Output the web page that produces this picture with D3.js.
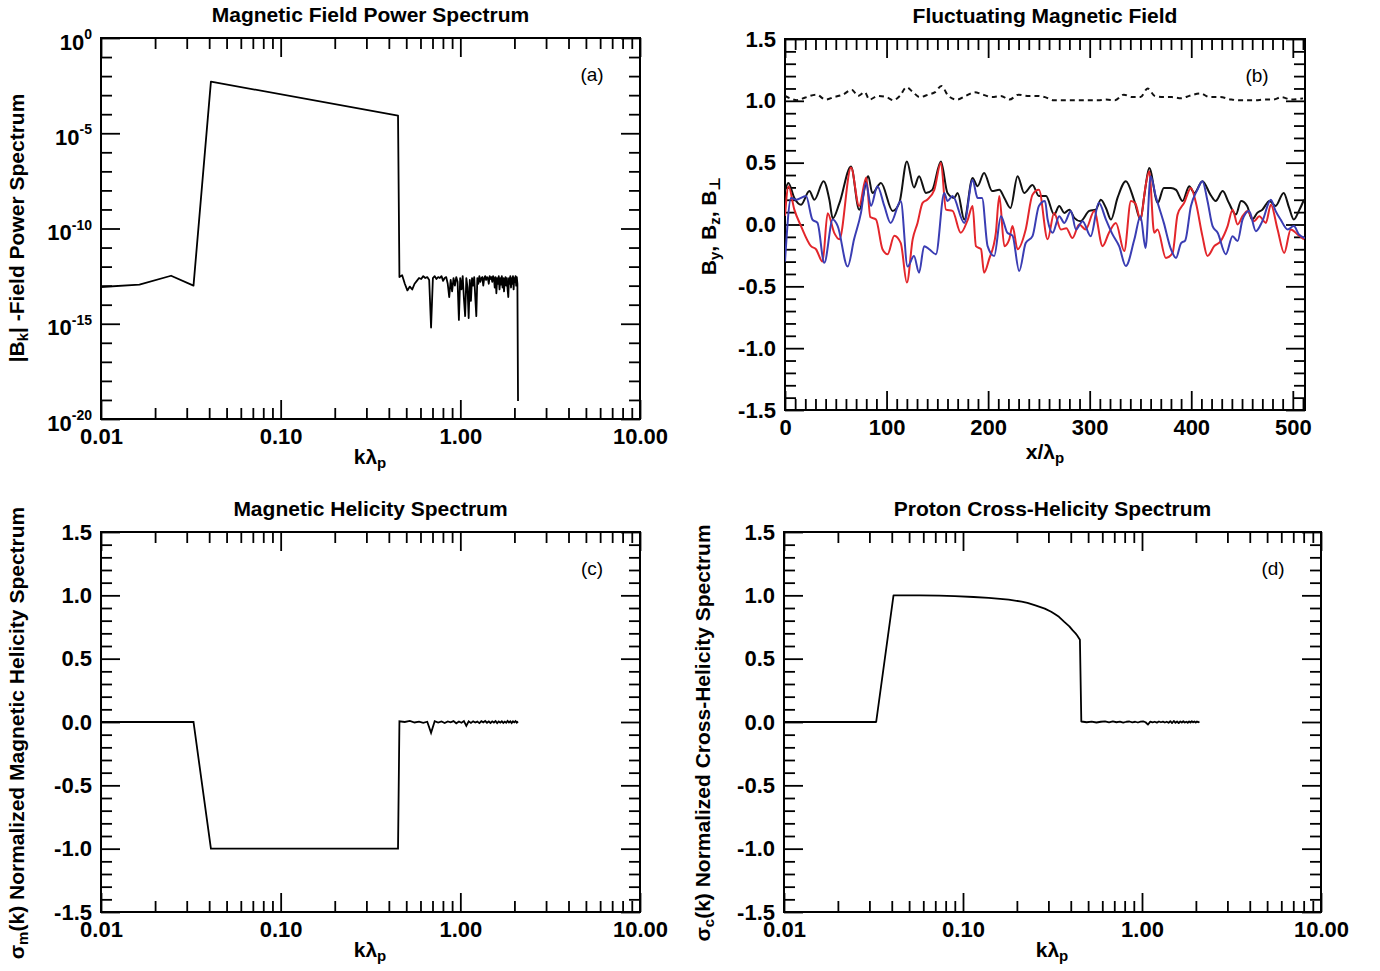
<!DOCTYPE html>
<html>
<head>
<meta charset="utf-8">
<script src="https://cdn.jsdelivr.net/npm/d3@7"></script>
<style>
  body { margin: 0; background: #fff; }
  text { font-family: "Liberation Sans", Arial, "DejaVu Sans", sans-serif; fill: #000; }
</style>
</head>
<body>
<div id="chart"></div>
<script>
// ---------- data ----------
// wavenumber grid: k = n * dk
const dk = 2 * Math.PI / 768;

// (a) power spectrum, log10 values
const powerHeadN = [1, 2, 3, 4, 5, 55];
const powerHeadLog = [-13.12, -12.95, -12.48, -13.0, -2.29, -4.07];
const powerTailStart = 56, powerTailStep = 2;
const powerTailLog = [
  -12.55, -12.45, -12.9, -13.25, -13.05, -13.2, -12.9, -12.75, -12.6, -12.65,
  -12.5, -12.6, -12.55, -12.7, -15.2, -12.6, -12.5, -12.65, -12.55, -12.6,
  -12.5, -12.75, -12.6, -12.55, -12.9, -13.6, -12.7, -13.3, -12.6, -13.0,
  -12.55, -12.8, -14.8, -12.6, -13.2, -12.5, -13.7, -14.6, -12.6, -13.1,
  -14.7, -12.7, -13.8, -12.6, -13.0, -12.55, -13.6, -14.6, -12.6, -12.9,
  -12.5, -12.8, -12.6, -12.55, -13.0, -12.6, -12.5, -12.7, -12.55, -12.6,
  -12.9, -12.5, -12.65, -12.55, -12.8, -12.5, -12.6, -13.1, -12.55, -13.4,
  -12.6, -12.9, -12.5, -13.2, -12.6, -12.95, -12.5, -13.1, -12.6, -13.3,
  -12.7, -12.55, -13.0, -12.6, -13.2, -13.6, -12.6, -12.9, -12.5, -13.1,
  -12.6, -12.9, -12.5, -13.2, -12.6, -12.8, -12.5, -13.0, -12.55, -12.9,
  -19.05
];

// (c) magnetic helicity
const helHeadN = [1, 4, 5, 55];
const helHeadVal = [0, 0, -1, -1];
const helTailStart = 56, helTailStep = 4;
const helTailVal = [
  0.005, 0.0, 0.008, -0.004, 0.003, -0.006, 0.002, -0.085, 0.006, -0.005,
  0.004, -0.008, 0.005, -0.003, 0.007, -0.01, 0.004, -0.006, 0.008, -0.03,
  0.005, -0.007, 0.006, -0.004, 0.003, -0.009, 0.006, -0.003, 0.008, -0.006,
  0.004, -0.008, 0.005, -0.004, 0.007, -0.009, 0.004, -0.005, 0.006, -0.007,
  0.003, -0.006, 0.008, -0.004, 0.005, -0.008, 0.006, -0.003, 0.007, -0.005,
  0.004
];

// (d) cross helicity
const crossHeadN = [1, 4, 5, 7, 9, 11, 14, 17, 22, 26, 28, 31, 35, 38, 40, 42, 45, 48, 50, 52, 53, 55];
const crossHeadVal = [0, 0, 1.0, 0.999, 0.997, 0.993, 0.987, 0.98, 0.966, 0.95, 0.94, 0.92, 0.895, 0.87, 0.85, 0.83, 0.79, 0.755, 0.725, 0.70, 0.685, 0.65];
const crossTailStart = 56, crossTailStep = 4;
const crossTailVal = [
  0.004, -0.002, 0.003, -0.004, 0.002, 0.005, -0.003, 0.004, -0.002, 0.003,
  -0.005, 0.002, 0.004, -0.003, 0.002, -0.004, 0.003, 0.005, -0.002, -0.02,
  0.003, -0.003, 0.002, -0.005, 0.004, -0.002, 0.003, -0.004, 0.002, -0.006,
  0.006, -0.008, 0.008, -0.006, 0.004, -0.008, 0.005, -0.004, 0.006, -0.005,
  0.003, -0.006, 0.005, -0.004, 0.006, -0.003, 0.005, -0.005, 0.004, -0.002,
  0.003
];

// (b) fluctuating field, [x/lambda_p, value]
const bPerp = [[0,0.27],[3.3,0.336],[9.2,0.215],[15.8,0.16],[24,0.27],[28.9,0.2],[38,0.35],[43.7,0.2],[47,0.05],[53.5,0.17],[65,0.47],[73,0.12],[82,0.39],[86,0.255],[94.5,0.336],[106,0.11],[112.6,0.175],[120,0.51],[127,0.3],[132,0.39],[138.8,0.255],[145,0.28],[153.5,0.51],[160,0.255],[166.6,0.215],[170,0.255],[176.5,0.04],[184.7,0.376],[189.6,0.31],[196,0.417],[204,0.27],[211,0.28],[216,0.215],[222,0.134],[229,0.39],[235.5,0.255],[243.7,0.32],[250,0.23],[257,0.23],[265,0.08],[270,0.15],[275,0.094],[280,0.12],[284.8,0.054],[291,0.027],[299.6,0.11],[306,0.12],[311,0.2],[316,0.134],[321,0.04],[327.4,0.215],[335.6,0.35],[344,0.19],[350,0.04],[353.7,0.23],[358.6,0.457],[367,0.175],[373,0.296],[380,0.296],[385,0.28],[391.5,0.19],[398,0.31],[403,0.255],[411,0.35],[419,0.24],[424,0.19],[431,0.27],[437,0.175],[444,0.08],[449,0.19],[455,0.15],[460,0.04],[465,0.094],[470,0.12],[477,0.19],[483,0.15],[491,0.255],[496.4,0.134],[501,0.04],[506,0.11],[511,0.2]];
const bY = [[0,0.07],[3.5,0.31],[9.2,0.12],[15.8,-0.013],[25.6,-0.175],[30.5,-0.2],[37,-0.3],[42,0.09],[48.6,-0.07],[53.5,-0.12],[65,0.46],[73,0.15],[80,0.38],[84,0.06],[89.6,0.04],[96,-0.2],[101,-0.24],[107.6,-0.09],[114,-0.15],[120,-0.47],[125.7,-0.12],[130.5,0.013],[135.5,0.175],[140,0.2],[147,0.28],[153.5,0.5],[158.5,0.12],[165,0.11],[173,-0.067],[180,0.04],[184.7,0.15],[188,-0.175],[193,-0.2],[196,-0.39],[201,-0.28],[207.6,-0.067],[211,0.23],[216,-0.175],[220.8,-0.12],[224,-0.013],[229,-0.2],[237,-0.04],[243.7,0.24],[250,0.28],[258.6,-0.12],[265,0.094],[271.7,-0.04],[277,-0.03],[283,-0.11],[289.7,0],[296,-0.04],[304.5,0.11],[312.7,-0.175],[319,-0.067],[325.8,0.013],[334,-0.215],[340.6,0.19],[345,0.17],[350,0.04],[355,0.31],[358.6,0.43],[363.5,-0.067],[366.8,-0.04],[375,-0.27],[381.6,-0.23],[386.5,0.08],[393,0.175],[399.7,0.296],[404.6,0.175],[411,-0.094],[416,-0.255],[422.6,-0.175],[429,-0.134],[435.8,-0.013],[440.7,0.12],[445.6,0],[450.5,0.067],[455.4,0.11],[462,0.027],[467,0.067],[473.5,0.013],[478.4,0.16],[485,-0.04],[491.5,-0.23],[498,-0.04],[504.6,-0.08],[511,-0.12]];
const bZ = [[0,-0.3],[6,0.215],[10.9,0.2],[20.7,0.23],[27,0.04],[32,0.013],[38.7,-0.31],[47,0.04],[51.9,-0.013],[61.7,-0.34],[68,-0.12],[74.8,0.094],[79.7,0.336],[84.7,0.15],[91,0.31],[97.8,0.15],[104,0.013],[114,0.19],[120.7,-0.34],[127,-0.255],[132,-0.39],[137,-0.175],[142,-0.2],[148.6,-0.24],[156.8,0.255],[160,0.19],[165,0.23],[176.5,0.013],[184.7,0.36],[189.6,0.215],[194,0.215],[199.5,-0.175],[206,-0.255],[212.6,0.067],[219,-0.067],[224,-0.09],[230.6,-0.376],[237,-0.15],[243.7,-0.094],[250,0.15],[256,0.19],[258.6,0.04],[263.5,-0.067],[270,0.067],[275,0.013],[281.5,0.11],[286.5,-0.04],[293,0.027],[301,-0.094],[309,0.175],[316,0.04],[322.5,-0.08],[329,-0.175],[335.6,-0.336],[344,-0.12],[350,0.067],[355,-0.19],[360,0.39],[365,0.23],[373,0.013],[380,-0.2],[385,-0.27],[390,-0.15],[394,-0.13],[399.7,0.15],[406,0.28],[411,0.35],[416,0.19],[421,-0.013],[426,-0.067],[434,-0.24],[440.7,-0.094],[445.6,-0.134],[450.5,0.04],[457,0.11],[463.6,-0.054],[470,0.027],[478.4,0.2],[483,0.11],[488,0.04],[495,-0.04],[501,-0.013],[506,-0.08],[512,-0.11]];
const bMag = [[0,1.04],[5,1.02],[11.7,1.005],[20,1.027],[31,1.05],[40,1.01],[48,1.03],[57,1.05],[65.7,1.09],[72,1.04],[78.6,1.07],[83,1.01],[91.6,1.04],[100,1.03],[106.7,1.005],[113,1.04],[119.7,1.11],[126,1.07],[132.7,1.03],[141,1.05],[147.8,1.07],[154,1.12],[160.8,1.04],[169.4,1.01],[178,1.04],[186.7,1.07],[195,1.05],[204,1.03],[212.6,1.04],[221,1.01],[230,1.05],[238.5,1.04],[247,1.04],[256,1.03],[264.5,1.005],[273,1.005],[281.7,1.005],[290,1.005],[299,1.005],[308,1.005],[316,1.01],[325,1.005],[333.6,1.05],[342,1.03],[350,1.03],[357,1.1],[364,1.04],[372.5,1.03],[381,1.03],[390,1.02],[398,1.04],[409,1.06],[418,1.03],[428.7,1.03],[439.5,1.01],[450,1.005],[463,1.005],[472,1.01],[480.6,1.01],[489,1.03],[498,1.01],[510,1.02]];

// tick values
const kMajor = [0.01, 0.1, 1, 10];
const powerMajor = [1, 1e-5, 1e-10, 1e-15, 1e-20];
const sigmaMajor = [-1.5, -1.0, -0.5, 0.0, 0.5, 1.0, 1.5];
const xMajor = [0, 100, 200, 300, 400, 500];

// ---------- helpers ----------
function spectrum(headN, headVal, tailStart, tailStep, tailVal, toY) {
  const pts = headN.map((n, i) => [n * dk, toY(headVal[i])]);
  tailVal.forEach((v, i) => pts.push([(tailStart + i * tailStep) * dk, toY(v)]));
  return pts;
}

const svg = d3.select("#chart").append("svg")
  .attr("width", 1380).attr("height", 971);
svg.append("rect").attr("width", 1380).attr("height", 971).attr("fill", "#fff");

const kMinor = [];
[0.01, 0.1, 1].forEach(d => { for (let m = 2; m <= 9; m++) kMinor.push(d * m); });

function styleAxis(sel) {
  sel.select(".domain").remove();
  sel.attr("font-size", null).attr("font-family", null);
  sel.selectAll("line").attr("stroke", "#000").attr("stroke-width", 1.8);
  sel.selectAll("text").style("font-size", "22px").style("font-weight", "bold");
}

function frame(id, x, y, o) {
  const [x0, x1] = x.range();
  const [y1, y0] = y.range();
  const g = svg.append("g");
  const both = (vals, size) => {
    g.append("g").attr("transform", `translate(0,${y1})`)
      .call(d3.axisBottom(x).tickValues(vals).tickSize(-size).tickFormat("")).call(styleAxis);
    g.append("g").attr("transform", `translate(0,${y0})`)
      .call(d3.axisTop(x).tickValues(vals).tickSize(-size).tickFormat("")).call(styleAxis);
  };
  const bothY = (vals, size) => {
    g.append("g").attr("transform", `translate(${x0},0)`)
      .call(d3.axisLeft(y).tickValues(vals).tickSize(-size).tickFormat("")).call(styleAxis);
    g.append("g").attr("transform", `translate(${x1},0)`)
      .call(d3.axisRight(y).tickValues(vals).tickSize(-size).tickFormat("")).call(styleAxis);
  };
  both(o.xMinor, 11);
  both(o.xMajor, 19);
  bothY(o.yMinor, 11);
  bothY(o.yMajor, 19);

  // labels
  g.append("g").attr("transform", `translate(0,${y1})`)
    .call(d3.axisBottom(x).tickValues(o.xMajor).tickSize(0).tickPadding(9).tickFormat(o.xFmt))
    .call(styleAxis);
  const ly = g.append("g").attr("transform", `translate(${x0},0)`)
    .call(d3.axisLeft(y).tickValues(o.yMajor).tickSize(0).tickPadding(9).tickFormat(o.yFmt))
    .call(styleAxis);
  if (o.logY) {
    ly.selectAll("text").each(function(d) {
      const t = d3.select(this).text("").attr("dy", "0.5em");
      t.append("tspan").text("10");
      t.append("tspan").attr("dy", "-0.75em").style("font-size", "14px")
        .text(Math.round(Math.log10(d)) === 0 ? "0" : String(Math.round(Math.log10(d))));
    });
  }

  g.append("rect").attr("x", x0).attr("y", y0)
    .attr("width", x1 - x0).attr("height", y1 - y0)
    .attr("fill", "none").attr("stroke", "#000").attr("stroke-width", 2);

  svg.append("clipPath").attr("id", "clip" + id).append("rect")
    .attr("x", x0).attr("y", y0).attr("width", x1 - x0).attr("height", y1 - y0);
  const plot = svg.append("g").attr("clip-path", `url(#clip${id})`);

  // title
  svg.append("text").attr("x", (x0 + x1) / 2).attr("y", y0 - 16)
    .attr("text-anchor", "middle").style("font-size", "21px").style("font-weight", "bold")
    .text(o.title);
  // panel tag
  svg.append("text").attr("x", x1 - 48).attr("y", y0 + 43)
    .attr("text-anchor", "middle").style("font-size", "19px")
    .text(o.tag);
  return plot;
}

function sub(t, main, s, size) {
  t.append("tspan").text(main);
  t.append("tspan").attr("baseline-shift", "-25%").style("font-size", (size || 15) + "px").text(s);
}

function xTitle(cx, cy, main, s) {
  const t = svg.append("text").attr("x", cx).attr("y", cy).attr("text-anchor", "middle")
    .style("font-size", "21px").style("font-weight", "bold");
  sub(t, main, s);
  return t;
}

function yTitle(cx, cy) {
  return svg.append("text").attr("transform", `translate(${cx},${cy}) rotate(-90)`)
    .attr("text-anchor", "middle").style("font-size", "21px").style("font-weight", "bold");
}

// ---------- (a) power spectrum ----------
const xa = d3.scaleLog().domain([0.01, 10]).range([101, 640]);
const ya = d3.scaleLog().domain([1e-20, 1]).range([419, 38]);
const yaMinor = d3.range(-19, 0).filter(e => e % 5 !== 0).map(e => Math.pow(10, e));
const pa = frame("a", xa, ya, {
  xMajor: kMajor, xMinor: kMinor, yMajor: powerMajor, yMinor: yaMinor,
  xFmt: d3.format(".2f"), yFmt: d => d, logY: true,
  title: "Magnetic Field Power Spectrum", tag: "(a)"
});
const powerPts = spectrum(powerHeadN, powerHeadLog, powerTailStart, powerTailStep, powerTailLog, v => Math.pow(10, v));
pa.append("path").datum(powerPts)
  .attr("d", d3.line().x(d => xa(d[0])).y(d => ya(d[1])))
  .attr("fill", "none").attr("stroke", "#000").attr("stroke-width", 1.8).attr("stroke-linejoin", "round");
xTitle(370, 464, "kλ", "p");
const ta = yTitle(24, 228);
ta.append("tspan").text("|B");
ta.append("tspan").attr("baseline-shift", "-25%").style("font-size", "15px").text("k");
ta.append("tspan").text("| -Field Power Spectrum");

// ---------- (b) fluctuating field ----------
const xb = d3.scaleLinear().domain([0, 512]).range([785, 1305]);
const yb = d3.scaleLinear().domain([-1.5, 1.5]).range([410, 39]);
const pb = frame("b", xb, yb, {
  xMajor: xMajor, xMinor: d3.range(10, 512, 10).filter(v => v % 100 !== 0),
  yMajor: sigmaMajor, yMinor: d3.range(-14, 15).filter(v => v % 5 !== 0).map(v => v / 10),
  xFmt: d => d, yFmt: d => d.toFixed(1),
  title: "Fluctuating Magnetic Field", tag: "(b)"
});
const lineB = d3.line().x(d => xb(d[0])).y(d => yb(d[1])).curve(d3.curveMonotoneX);
const seriesB = [
  { data: bMag, color: "#111", dash: "5,4" },
  { data: bPerp, color: "#111", dash: null },
  { data: bY, color: "#e3262b", dash: null },
  { data: bZ, color: "#3a3db3", dash: null }
];
seriesB.forEach(s => {
  pb.append("path").datum(s.data).attr("d", lineB)
    .attr("fill", "none").attr("stroke", s.color).attr("stroke-width", 2)
    .attr("stroke-dasharray", s.dash);
});
const txb = svg.append("text").attr("x", 1045).attr("y", 459).attr("text-anchor", "middle")
  .style("font-size", "21px").style("font-weight", "bold");
sub(txb, "x/λ", "p");
const tb = yTitle(716, 226);
sub(tb, "B", "y");
tb.append("tspan").text(",  ");
sub(tb, "B", "z");
tb.append("tspan").text(",  ");
sub(tb, "B", "⊥");

// ---------- (c) magnetic helicity ----------
const xc = d3.scaleLog().domain([0.01, 10]).range([101, 640]);
const yc = d3.scaleLinear().domain([-1.5, 1.5]).range([912, 532]);
const sigmaMinor = d3.range(-14, 15).filter(v => v % 5 !== 0).map(v => v / 10);
const pc = frame("c", xc, yc, {
  xMajor: kMajor, xMinor: kMinor, yMajor: sigmaMajor, yMinor: sigmaMinor,
  xFmt: d3.format(".2f"), yFmt: d => d.toFixed(1),
  title: "Magnetic Helicity Spectrum", tag: "(c)"
});
pc.append("path").datum(spectrum(helHeadN, helHeadVal, helTailStart, helTailStep, helTailVal, v => v))
  .attr("d", d3.line().x(d => xc(d[0])).y(d => yc(d[1])))
  .attr("fill", "none").attr("stroke", "#000").attr("stroke-width", 1.8);
xTitle(370, 957, "kλ", "p");
const tc = yTitle(24, 733);
sub(tc, "σ", "m");
tc.append("tspan").text("(k) Normalized Magnetic Helicity Spectrum");

// ---------- (d) cross helicity ----------
const xd = d3.scaleLog().domain([0.01, 10]).range([784, 1321]);
const yd = d3.scaleLinear().domain([-1.5, 1.5]).range([912, 532]);
const pd = frame("d", xd, yd, {
  xMajor: kMajor, xMinor: kMinor, yMajor: sigmaMajor, yMinor: sigmaMinor,
  xFmt: d3.format(".2f"), yFmt: d => d.toFixed(1),
  title: "Proton Cross-Helicity Spectrum", tag: "(d)"
});
pd.append("path").datum(spectrum(crossHeadN, crossHeadVal, crossTailStart, crossTailStep, crossTailVal, v => v))
  .attr("d", d3.line().x(d => xd(d[0])).y(d => yd(d[1])))
  .attr("fill", "none").attr("stroke", "#000").attr("stroke-width", 1.8).attr("stroke-linejoin", "round");
xTitle(1052, 957, "kλ", "p");
const td = yTitle(710, 733);
sub(td, "σ", "c");
td.append("tspan").text("(k) Normalized Cross-Helicity Spectrum");
</script>
</body>
</html>
